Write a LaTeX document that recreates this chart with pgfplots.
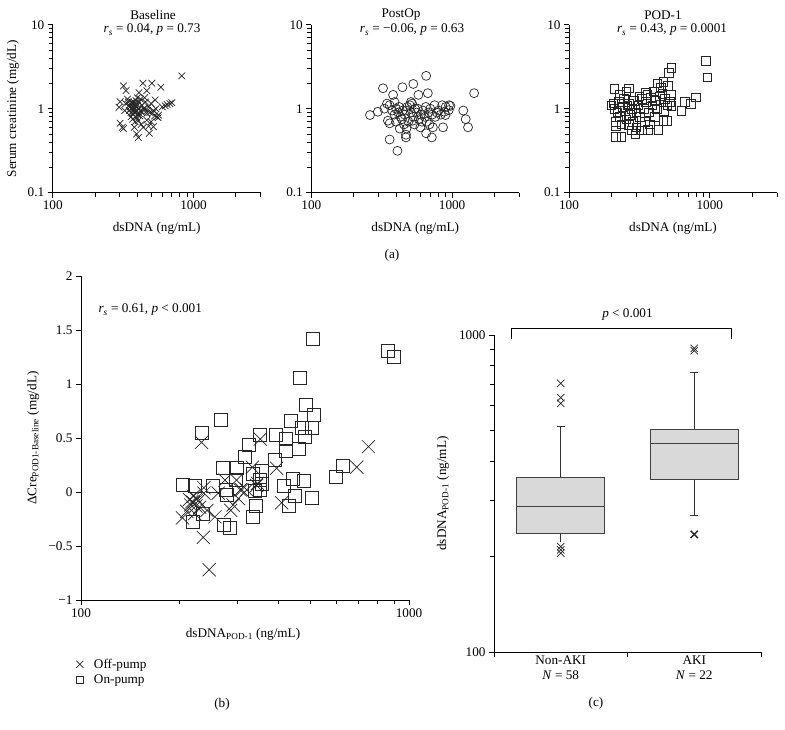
\documentclass[border=0pt]{standalone}
\usepackage{fontspec}
\setmainfont{Liberation Serif}
\usepackage{pgfplots}
\pgfplotsset{compat=1.18}
\newcommand{\fs}{\fontsize{13.2bp}{15bp}\selectfont}
\pgfplotsset{
  myaxiscommon/.style={scale only axis, axis x line*=bottom, axis y line*=left,
    tick align=outside, axis line style={black, line width=0.8bp},
    major tick style={black, line width=0.9bp}, minor tick style={black, line width=0.9bp},
    major tick length=5bp, minor tick length=4bp,
    tick label style={font=\fs, black}, label style={font=\fs},
    clip=false, anchor=south west},
  mymarks/.style={only marks, draw=black!85, mark options={line width=0.7bp, fill=none}},
}
\begin{document}
\begin{tikzpicture}
\useasboundingbox (0,0) rectangle (785bp,730bp);
% ---------- (a) Baseline ----------
\begin{axis}[myaxiscommon, at={(52.7bp,537.3bp)}, width=208bp, height=168bp,
    xmode=log, ymode=log, xmin=100, xmax=3000, ymin=0.1, ymax=10,
    xtick={100,1000}, xticklabels={100,1000},
    minor xtick={200,300,400,500,600,700,800,900,2000,3000},
    ytick={0.1,1,10}, yticklabels={0.1,1,10},
    minor ytick={0.2,0.3,0.4,0.5,0.6,0.7,0.8,0.9,2,3,4,5,6,7,8,9},
    xlabel={dsDNA (ng/mL)},
    xlabel style={at={(axis description cs:0.5,-0.21)}, anchor=center},
  ylabel={Serum creatinine (mg/dL)},
  ylabel style={at={(axis description cs:-0.191,0.5)}, anchor=center}]
\addplot[mymarks, mark=x, mark size=4.7bp] coordinates {
(826,2.46)(318,1.87)(437,2.01)(506,2.01)(586,1.80)(332,1.64)(466,1.64)(301,1.21)
(296,1.04)(702,1.18)(629,1.08)(534,1.27)(301,0.67)(318,0.58)(312,0.60)(406,0.455)
(485,0.51)(519,0.61)(466,0.73)(564,0.84)(466,0.88)(374,0.96)
(350,1.1)(360,1.0)(370,1.15)(380,0.9)(390,1.05)(400,0.85)(410,1.2)(420,0.95)
(430,1.1)(440,1.0)(360,0.8)(370,0.75)(385,0.7)(395,0.78)(405,0.72)(415,0.82)
(350,0.95)(345,1.2)(340,1.3)(390,1.25)(400,1.35)(420,1.3)(450,1.0)(470,0.95)
(490,0.9)(510,0.88)(530,0.82)(550,0.80)(480,1.05)(500,1.15)(455,1.2)(440,0.6)
(425,0.65)(380,0.6)(360,0.9)(375,1.05)(395,0.95)(410,1.0)(355,1.05)(365,1.2)
(385,1.15)(430,0.9)(520,0.95)(560,0.78)(540,1.0)(600,1.05)(650,1.12)(680,1.15)
(330,1.15)(325,0.95)(450,1.35)(410,1.55)(395,0.5)(480,0.62)(500,0.7)
(372,1.0)(382,1.08)(392,0.92)(402,1.1)(368,0.88)(412,0.88)(388,0.8)(376,1.2)
};
\end{axis}
% ---------- (a) PostOp ----------
\begin{axis}[myaxiscommon, at={(311.3bp,537.3bp)}, width=208bp, height=168bp,
    xmode=log, ymode=log, xmin=100, xmax=3000, ymin=0.1, ymax=10,
    xtick={100,1000}, xticklabels={100,1000},
    minor xtick={200,300,400,500,600,700,800,900,2000,3000},
    ytick={0.1,1,10}, yticklabels={0.1,1,10},
    minor ytick={0.2,0.3,0.4,0.5,0.6,0.7,0.8,0.9,2,3,4,5,6,7,8,9},
    xlabel={dsDNA (ng/mL)},
    xlabel style={at={(axis description cs:0.5,-0.21)}, anchor=center}]
\addplot[mymarks, mark=o, mark size=4.5bp] coordinates {
(1433,1.53)(654,2.46)(530,1.97)(444,1.80)(323,1.75)(381,1.46)(672,1.53)(576,1.46)
(1200,0.95)(1248,0.75)(1297,0.60)(862,0.60)(718,0.455)(654,0.51)(470,0.455)(470,0.49)
(360,0.43)(409,0.315)(261,0.84)(297,0.92)(360,0.67)(425,0.58)(474,0.58)(973,1.08)
(946,0.96)(780,0.90)(897,0.84)
(330,1.0)(345,1.15)(360,1.1)(375,0.95)(390,0.85)(400,1.0)(415,0.9)(430,0.8)
(445,0.95)(460,0.85)(480,1.05)(500,1.1)(510,0.9)(520,1.15)(530,0.8)(545,1.0)
(560,0.9)(580,0.75)(600,0.85)(620,0.95)(640,0.8)(660,0.7)(680,0.9)(700,1.0)
(720,0.85)(750,1.1)(800,0.95)(850,1.1)(900,1.05)(950,1.1)(390,1.2)(420,1.05)
(440,0.75)(470,0.95)(490,0.7)(510,1.2)(540,0.65)(570,1.0)(610,0.7)(650,1.05)
(690,0.65)(730,0.6)(760,0.8)(830,0.85)(880,0.92)(350,0.72)(400,0.7)(455,0.65)
(525,0.72)(595,0.6)
};
\end{axis}
% ---------- (a) POD-1 ----------
\begin{axis}[myaxiscommon, at={(569bp,537.3bp)}, width=208bp, height=168bp,
    xmode=log, ymode=log, xmin=100, xmax=3000, ymin=0.1, ymax=10,
    xtick={100,1000}, xticklabels={100,1000},
    minor xtick={200,300,400,500,600,700,800,900,2000,3000},
    ytick={0.1,1,10}, yticklabels={0.1,1,10},
    minor ytick={0.2,0.3,0.4,0.5,0.6,0.7,0.8,0.9,2,3,4,5,6,7,8,9},
    xlabel={dsDNA (ng/mL)},
    xlabel style={at={(axis description cs:0.5,-0.21)}, anchor=center}]
\addplot[mymarks, mark=square, mark size=4.3bp] coordinates {
(935,3.74)(961,2.37)(533,3.04)(510,2.65)(469,2.10)(501,1.87)(798,1.37)(733,1.14)
(663,1.21)(627,0.95)(533,1.08)(530,1.46)(267,1.75)(210,1.71)(216,0.46)(236,0.46)
(295,0.50)(364,0.56)(431,0.56)(469,0.72)(497,0.72)(216,0.62)(267,0.64)(207,1.16)
(200,1.1)(210,1.0)(220,0.9)(225,1.2)(230,0.8)(240,1.05)(250,0.95)(255,0.75)
(260,1.1)(270,0.85)(280,1.0)(290,1.25)(300,0.9)(310,1.1)(320,0.8)(330,1.3)
(340,1.0)(350,1.2)(360,1.45)(370,0.9)(380,1.35)(390,1.1)(400,1.6)(410,1.25)
(420,1.0)(440,1.4)(460,1.5)(480,1.3)(500,1.1)(520,1.2)(215,0.7)(235,0.65)
(245,1.3)(265,1.15)(285,0.7)(300,0.6)(315,1.4)(345,0.7)(375,0.65)(405,0.8)
(425,2.0)(450,1.8)(470,0.95)(230,1.45)(255,1.6)(330,0.55)(280,0.55)(350,1.55)
};
\end{axis}
\node[font=\fs] at (153bp,715bp) {Baseline};
\node[font=\fs] at (152bp,700bp) {\textit{r}\textsubscript{\textit{s}} = 0.04, \textit{p} = 0.73};
\node[font=\fs] at (401bp,715bp) {PostOp};
\node[font=\fs] at (412bp,700bp) {\textit{r}\textsubscript{\textit{s}} = −0.06, \textit{p} = 0.63};
\node[font=\fs] at (663bp,715bp) {POD-1};
\node[font=\fs] at (672bp,700bp) {\textit{r}\textsubscript{\textit{s}} = 0.43, \textit{p} = 0.0001};
\node[font=\fs] at (392bp,475bp) {(a)};
% ---------- (b) ----------
\begin{axis}[myaxiscommon, at={(81bp,130bp)}, width=328bp, height=324bp,
  xmode=log, xmin=100, xmax=1000, ymin=-1, ymax=2,
  xtick={100,1000}, xticklabels={100,1000},
  minor xtick={200,300,400,500,600,700,800,900},
  ytick={-1,-0.5,0,0.5,1,1.5,2}, yticklabels={−1,−0.5,0,0.5,1,1.5,2},
  xlabel={dsDNA\textsubscript{POD-1} (ng/mL)},
  xlabel style={at={(axis description cs:0.494,-0.105)}, anchor=center},
  ylabel={ΔCre\textsubscript{POD1-Baseline} (mg/dL)},
  ylabel style={at={(axis description cs:-0.146,0.5)}, anchor=center},
  legend style={at={(axis description cs:-0.025,-0.172)}, anchor=north west,
    draw=none, fill=none, font=\fs, row sep=1bp, inner sep=1bp},
  legend cell align=left,
  legend image code/.code={\path (0cm,0cm) (0.62cm,0cm); \draw[#1] plot coordinates {(0.2cm,0cm)};}]
\addplot[mymarks, mark=x, mark size=9.3bp, legend image post style={mark size=5bp}] coordinates {
(233,0.46)(352,0.49)(752,0.42)(693,0.23)(333,0.23)(395,0.22)(275,0.11)(298,0.11)
(345,0.08)(237,0.04)(306,0.02)(204,-0.24)(236,-0.42)(246,-0.72)(214,-0.07)(220,-0.10)
(225,-0.06)(230,-0.14)(237,-0.01)(242,-0.17)(256,-0.23)(262,-0.01)(291,-0.12)(286,-0.17)
(309,0.02)(409,-0.10)(343,0.06)(210,-0.18)(222,-0.20)(218,-0.09)(216,-0.12)(224,-0.13)
(228,-0.08)(220,-0.04)(302,-0.06)(320,0.02)
};
\addlegendentry{Off-pump}
\addplot[mymarks, mark=square, mark size=6.5bp, legend image post style={mark size=3.6bp}] coordinates {
(508,1.42)(865,1.31)(896,1.25)(465,1.06)(484,0.81)(514,0.71)(436,0.66)(267,0.67)
(234,0.55)(393,0.53)(350,0.53)(471,0.59)(505,0.59)(480,0.51)(421,0.49)(324,0.44)
(421,0.38)(462,0.40)(315,0.33)(628,0.24)(598,0.14)(390,0.30)(270,0.22)(298,0.22)
(357,0.20)(335,0.17)(204,0.07)(223,0.06)(252,0.06)(276,0.02)(296,0.11)(352,0.11)
(414,0.06)(444,0.12)(478,0.10)(448,-0.04)(507,-0.05)(339,0.01)(355,0.08)(219,-0.28)
(236,-0.20)(273,-0.30)(285,-0.33)(333,-0.23)(341,-0.13)(430,-0.13)(278,-0.03)(352,0.02)
};
\addlegendentry{On-pump}
\end{axis}
\node[font=\fs, anchor=west] at (95bp,420bp) {\textit{r}\textsubscript{\textit{s}} = 0.61, \textit{p} < 0.001};
\node[font=\fs] at (222bp,26bp) {(b)};
% ---------- (c) ----------
\begin{axis}[myaxiscommon, at={(494bp,78bp)}, width=267bp, height=317bp,
  ymode=log, ymin=100, ymax=1000, xmin=0, xmax=2,
  xtick={0,1,2}, xticklabels={,,}, major tick length=5bp,
  extra x ticks={0.5,1.5},
  extra x tick labels={{Non-AKI\\\textit{N} = 58},{AKI\\\textit{N} = 22}},
  extra x tick style={major tick length=0pt, tick label style={align=center, font=\fs}},
  ytick={100,1000}, yticklabels={100,1000},
  minor ytick={200,300,400,500,600,700,800,900},
  ylabel={dsDNA\textsubscript{POD-1} (ng/mL)},
  ylabel style={at={(axis description cs:-0.191,0.5)}, anchor=center}]
\addplot[black!80, line width=0.9bp] coordinates {(0.5,356)(0.5,513)};
\addplot[black!80, line width=0.9bp] coordinates {(0.47,513)(0.53,513)};
\addplot[black!80, line width=0.9bp] coordinates {(0.5,237)(0.5,222)};
\addplot[black!80, line width=0.9bp] coordinates {(1.5,504)(1.5,760)};
\addplot[black!80, line width=0.9bp] coordinates {(1.47,760)(1.53,760)};
\addplot[black!80, line width=0.9bp] coordinates {(1.5,351)(1.5,269)};
\addplot[black!80, line width=0.9bp] coordinates {(1.47,269)(1.53,269)};
\addplot[draw=black!75, line width=1.1bp, fill=black!15] coordinates {(0.17,237)(0.83,237)(0.83,356)(0.17,356)} -- cycle;
\addplot[black!75, line width=1.1bp] coordinates {(0.17,287)(0.83,287)};
\addplot[draw=black!75, line width=1.1bp, fill=black!15] coordinates {(1.17,351)(1.83,351)(1.83,504)(1.17,504)} -- cycle;
\addplot[black!75, line width=1.1bp] coordinates {(1.17,455)(1.83,455)};
\addplot[mymarks, mark=x, mark size=5.2bp] coordinates {(0.5,704)(0.5,634)(0.5,609)(0.5,215)(0.5,210)(0.5,205)(1.5,908)(1.5,892)};
\addplot[mymarks, mark=x, mark size=5.2bp, mark options={line width=1.4bp}] coordinates {(1.5,235)};
\addplot[black, line width=0.8bp] coordinates {(0.127,971)(0.127,1052)(1.775,1052)(1.775,971)};
\node[font=\fs] at (axis cs:1.0,1157) {\textit{p} < 0.001};
\end{axis}
\node[font=\fs] at (596bp,27bp) {(c)};
\end{tikzpicture}
\end{document}
